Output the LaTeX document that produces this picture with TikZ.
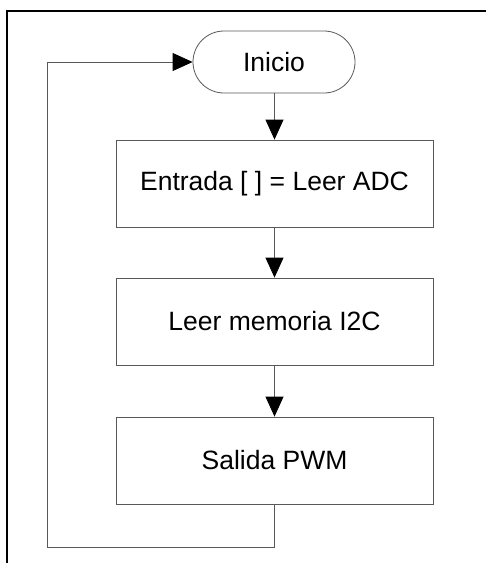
\documentclass[tikz,border=0pt]{standalone}
\usepackage{fontspec}
\setmainfont{Liberation Sans}
\usetikzlibrary{arrows.meta}
\begin{document}
\begin{tikzpicture}[x=1pt,y=-1pt,
  txt/.style={font=\fontsize{26.5}{31}\selectfont},
  proc/.style={draw=black!65, line width=0.8pt, minimum width=317pt, minimum height=87pt, inner sep=0pt, txt},
  term/.style={draw=black!65, line width=0.8pt, rounded corners=31pt, minimum width=162pt, minimum height=62pt, inner sep=0pt, txt},
  conn/.style={draw=black!65, line width=0.8pt},
  arr/.style={conn, -{Triangle[width=18pt,length=20pt,fill=black,color=black]}},
  frame/.style={draw=black, line width=2pt}]
\useasboundingbox (0,0) rectangle (486,563);
\fill[white] (0,0) rectangle (486,563);
\draw[frame] (7,563) -- (7,11) -- (490,11);
\node[term] (inicio) at (274,62) {Inicio};
\node[proc] (b1) at (274.5,183.5) {Entrada [ ] = Leer ADC};
\node[proc] (b2) at (274.5,321.5) {Leer memoria I2C};
\node[proc] (b3) at (274.5,460.5) {Salida PWM};
\coordinate (c1) at (274.5,547);
\coordinate (c2) at (47,547);
\coordinate (c3) at (47,62);
\draw[arr] (inicio.south -| b1.north) -- (b1.north);
\draw[arr] (b1.south) -- (b2.north);
\draw[arr] (b2.south) -- (b3.north);
\draw[arr] (b3.south) -- (c1) -- (c2) -- (c3) -- (inicio.west);
\end{tikzpicture}
\end{document}
